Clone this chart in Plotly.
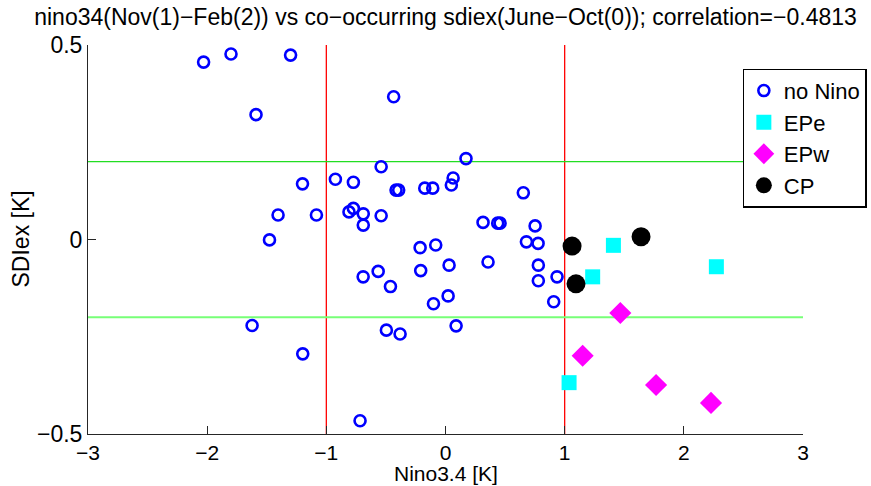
import plotly.graph_objects as go

# ---- data ----
nonino_x = [-2.03, -1.80, -1.30, -0.435, -1.59, 0.172, -0.54, -0.924, -0.773, -1.20,
            -0.415, -0.393, -0.174, -0.107, 0.064, 0.049, 0.653, -0.773, -0.81, -0.69,
            -0.54, -0.69, 0.315, 0.438, 0.458, 0.752, -1.405, -1.083, -1.477, -0.691,
            -0.565, -1.623, -1.198, -0.717, 0.679, 0.777, -0.213, -0.082, 0.030, 0.357,
            0.779, 0.779, 0.936, 0.908, -0.462, -0.208, 0.022, -0.101, -0.496, -0.381, 0.089]
nonino_y = [0.456, 0.477, 0.474, 0.367, 0.321, 0.208, 0.187, 0.155, 0.147, 0.143,
            0.127, 0.127, 0.132, 0.132, 0.158, 0.140, 0.120, 0.080, 0.071, 0.066,
            0.061, 0.037, 0.044, 0.042, 0.042, 0.035, 0.063, 0.063, -0.001, -0.096,
            -0.082, -0.221, -0.294, -0.466, -0.006, -0.010, -0.021, -0.014, -0.066, -0.058,
            -0.066, -0.106, -0.096, -0.160, -0.121, -0.080, -0.145, -0.165, -0.233, -0.243, -0.222]
epe_x = [1.409, 1.235, 2.273, 1.037]
epe_y = [-0.015, -0.096, -0.070, -0.368]
epw_x = [1.467, 1.151, 1.767, 2.228]
epw_y = [-0.189, -0.299, -0.374, -0.420]
cp_x = [1.062, 1.095, 1.641]
cp_y = [-0.017, -0.114, 0.007]

x_ticks = [-3, -2, -1, 0, 1, 2, 3]
y_ticks = [-0.5, 0, 0.5]
x_range = [-3, 3]
y_range = [-0.5, 0.5]
nino_thresholds = [-1, 1]
sdi_upper = 0.2
sdi_lower = -0.2

title_text = "nino34(Nov(1)\u2212Feb(2)) vs co\u2212occurring sdiex(June\u2212Oct(0)); correlation=\u22120.4813"
x_title = "Nino3.4 [K]"
y_title = "SDIex [K]"
FONT = "Liberation Sans, Arial, sans-serif"
FS = 23

fig = go.Figure()
fig.add_trace(go.Scatter(x=nonino_x, y=nonino_y, mode="markers", name="no Nino",
                         marker=dict(symbol="circle-open", size=11, color="#0000ff",
                                     line=dict(width=2.6, color="#0000ff"))))
fig.add_trace(go.Scatter(x=epe_x, y=epe_y, mode="markers", name="EPe",
                         marker=dict(symbol="square", size=15, color="#00ffff",
                                     line=dict(width=0))))
fig.add_trace(go.Scatter(x=epw_x, y=epw_y, mode="markers", name="EPw",
                         marker=dict(symbol="diamond", size=17, color="#ff00ff",
                                     line=dict(width=0))))
fig.add_trace(go.Scatter(x=cp_x, y=cp_y, mode="markers", name="CP",
                         marker=dict(symbol="circle", size=19, color="#000000",
                                     line=dict(width=0))))

for xv in nino_thresholds:
    fig.add_shape(type="line", xref="x", yref="y", x0=xv, x1=xv, y0=y_range[0], y1=y_range[1],
                  line=dict(color="#ff0000", width=1.3), layer="below")
fig.add_shape(type="line", xref="x", yref="y", x0=x_range[0], x1=x_range[1], y0=sdi_upper, y1=sdi_upper,
              line=dict(color="#22dd22", width=1.2), layer="below")
fig.add_shape(type="line", xref="x", yref="y", x0=x_range[0], x1=x_range[1], y0=sdi_lower, y1=sdi_lower,
              line=dict(color="#77ff77", width=2), layer="below")

# axis titles as annotations for exact placement
fig.add_annotation(text=x_title, xref="paper", yref="paper", x=0.5, y=(434 - 474) / 389,
                   xanchor="center", yanchor="middle", showarrow=False,
                   font=dict(family=FONT, size=21, color="#000000"))
fig.add_annotation(text=y_title, xref="paper", yref="paper", x=(20 - 88) / 715, y=0.5,
                   xanchor="center", yanchor="middle", showarrow=False, textangle=-90,
                   font=dict(family=FONT, size=FS, color="#000000"))

fig.update_layout(
    width=871, height=486,
    margin=dict(l=88, r=68, t=45, b=52, pad=0, autoexpand=False),
    paper_bgcolor="white", plot_bgcolor="white",
    font=dict(family=FONT, size=FS, color="#000000"),
    title=dict(text=title_text, x=0.5115, xanchor="center", y=1 - 17 / 486, yanchor="middle",
               yref="container", font=dict(family=FONT, size=FS, color="#000000")),
    showlegend=True,
    legend=dict(x=0.9156, y=0.9394, xanchor="left", yanchor="top",
                bgcolor="white", bordercolor="#000000", borderwidth=1.2,
                font=dict(family=FONT, size=22, color="#000000"),
                tracegroupgap=0, traceorder="normal"),
    xaxis=dict(range=x_range, tickvals=x_ticks, ticks="inside", ticklen=8, tickwidth=1,
               tickcolor="#262626", showline=True, linecolor="#262626", linewidth=1,
               showgrid=False, zeroline=False, mirror=False, automargin=False,
               tickfont=dict(size=21)),
    yaxis=dict(range=y_range, tickvals=y_ticks, ticktext=["\u22120.5", "0", "0.5"],
               ticks="inside", ticklen=8, tickwidth=1,
               tickcolor="#262626", showline=True, linecolor="#262626", linewidth=1,
               showgrid=False, zeroline=False, mirror=False, automargin=False,
               tickfont=dict(size=FS)),
)

fig.write_html("out.html")
